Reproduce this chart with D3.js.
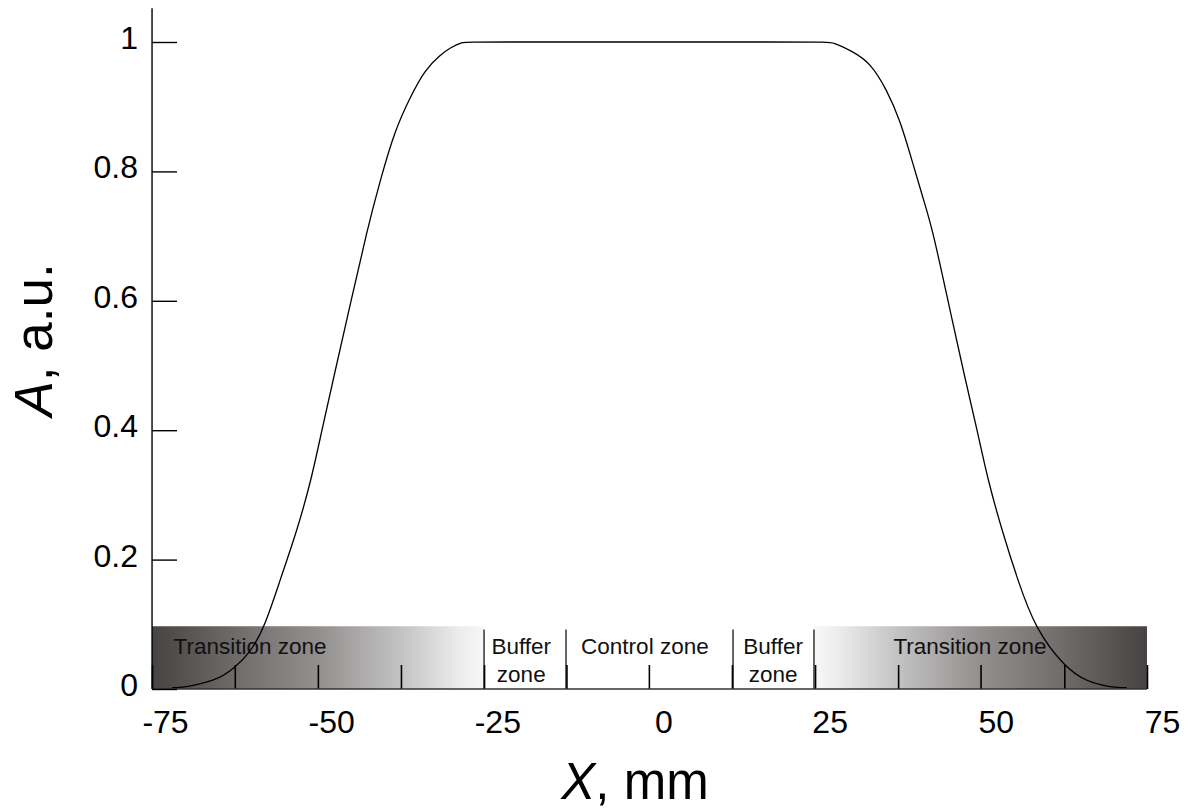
<!DOCTYPE html>
<html>
<head>
<meta charset="utf-8">
<script src="https://cdn.jsdelivr.net/npm/d3@7"></script>
<style>
  body { margin: 0; background: #fff; }
  svg { display: block; font-family: Arial, "Liberation Sans", sans-serif; }
</style>
</head>
<body>
<svg id="chart" width="1189" height="812"></svg>
<script>
// curve (X in mm, A in a.u.)
var curveX = [-73.9, -73.0, -70.8, -67.2, -64.6, -62.2, -60.0, -57.7, -55.1, -53.0, -51.4, -49.7, -47.0, -44.6, -42.6, -40.4, -38.1, -35.9, -33.6, -32.1, -30.3, -29.0,
              24.2, 25.5, 28.5, 31.1, 33.6, 35.6, 37.5, 39.0, 40.4, 42.8, 45.4, 47.2, 48.8, 50.9, 53.3, 55.9, 60.3, 63.7, 67.2, 69.0, 69.7];
var curveY = [0.002, 0.002, 0.005, 0.014, 0.032, 0.056, 0.096, 0.168, 0.246, 0.323, 0.400, 0.478, 0.600, 0.709, 0.787, 0.864, 0.915, 0.957, 0.980, 0.991, 1.0, 1.0,
              1.0, 1.0, 0.985, 0.968, 0.926, 0.879, 0.813, 0.760, 0.714, 0.600, 0.478, 0.400, 0.323, 0.246, 0.168, 0.094, 0.034, 0.011, 0.003, 0.002, 0.002];

// x and y tick labels
var xTicks = [-75, -50, -25, 0, 25, 50, 75];
var yTicks = [0, 0.2, 0.4, 0.6, 0.8, 1];

// zone strip
var zoneEdges = [-76.95, -27.0, -14.67, 10.46, 22.64, 72.74];
var zoneTicks = [-76.95, -64.5, -52.0, -39.5, -27.0, -14.6, -2.2, 10.3, 22.8, 35.3, 47.7, 60.3, 72.74];
var zoneLabels = [['Transition zone'], ['Buffer', 'zone'], ['Control zone'], ['Buffer', 'zone'], ['Transition zone']];
var zoneLabelX = [-62.2, -21.4, -2.8, 16.5, 46.1];
var stripTop = 0.097;
var yTop = 1.052;

var svg = d3.select('#chart');

var x = d3.scaleLinear().domain([-75, 75]).range([165, 1162]);
var y = d3.scaleLinear().domain([0, 1]).range([689, 42]);

// gradients for the transition zones
var defs = svg.append('defs');
var stops = [
    { o: 0, c: '#474342' },
    { o: 0.3, c: '#767372' },
    { o: 0.5, c: '#928f8e' },
    { o: 0.75, c: '#c4c3c3' },
    { o: 0.93, c: '#ededed' },
    { o: 1, c: '#f7f7f7' }
];
['left', 'right'].forEach(function(side) {
    var g = defs.append('linearGradient').attr('id', 'grad-' + side)
        .attr('x1', side === 'left' ? '0%' : '100%')
        .attr('x2', side === 'left' ? '100%' : '0%')
        .attr('y1', '0%').attr('y2', '0%');
    stops.forEach(function(s) {
        g.append('stop').attr('offset', s.o).attr('stop-color', s.c);
    });
});

// transition zone rects (first and last zone)
var strip = svg.append('g');
strip.append('rect')
    .attr('x', x(zoneEdges[0]))
    .attr('y', y(stripTop))
    .attr('width', x(zoneEdges[1]) - x(zoneEdges[0]))
    .attr('height', y(0) - y(stripTop))
    .attr('fill', 'url(#grad-left)');
strip.append('rect')
    .attr('x', x(zoneEdges[4]))
    .attr('y', y(stripTop))
    .attr('width', x(zoneEdges[5]) - x(zoneEdges[4]))
    .attr('height', y(0) - y(stripTop))
    .attr('fill', 'url(#grad-right)');

// dividers between zones
strip.selectAll('.divider')
    .data(zoneEdges.slice(1, 5))
    .enter().append('line')
    .attr('class', 'divider')
    .attr('x1', d => x(d)).attr('x2', d => x(d))
    .attr('y1', y(0.092)).attr('y2', y(0))
    .attr('stroke', '#000').attr('stroke-width', 1.2);

// zone labels
zoneLabels.forEach(function(lines, i) {
    var t = strip.append('text')
        .attr('x', x(zoneLabelX[i]))
        .attr('text-anchor', 'middle')
        .attr('font-size', 22.5)
        .attr('fill', '#111');
    lines.forEach(function(line, j) {
        t.append('tspan')
            .attr('x', x(zoneLabelX[i]))
            .attr('y', y(0) - 35 + j * 28)
            .text(line);
    });
});

// curve
var line = d3.line()
    .x(d => x(d[0]))
    .y(d => y(d[1]))
    .curve(d3.curveBasis);
svg.append('path')
    .datum(curveX.map((v, i) => [v, curveY[i]]))
    .attr('d', line)
    .attr('fill', 'none')
    .attr('stroke', '#000')
    .attr('stroke-width', 1.3);

// inner ticks of the x axis
var tickAxis = svg.append('g')
    .attr('transform', 'translate(0,' + y(0) + ')')
    .call(d3.axisBottom(x).tickValues(zoneTicks).tickSize(-24).tickFormat(''));
tickAxis.select('.domain').remove();
tickAxis.selectAll('.tick line').attr('stroke', '#000').attr('stroke-width', 1.6);

// x axis line and labels
svg.append('line')
    .attr('x1', x(zoneEdges[0])).attr('x2', x(zoneEdges[5]))
    .attr('y1', y(0)).attr('y2', y(0))
    .attr('stroke', '#333').attr('stroke-width', 1.6);

var xAxis = svg.append('g')
    .attr('transform', 'translate(0,' + y(0) + ')')
    .call(d3.axisBottom(x).tickValues(xTicks).tickSize(0).tickPadding(21).tickFormat(d => String(d)));
xAxis.select('.domain').remove();
xAxis.selectAll('text')
    .attr('font-size', 32)
    .attr('font-family', 'Arial, "Liberation Sans", sans-serif')
    .attr('fill', '#000');

// y axis
svg.append('line')
    .attr('x1', x(zoneEdges[0])).attr('x2', x(zoneEdges[0]))
    .attr('y1', y(0)).attr('y2', y(yTop))
    .attr('stroke', '#000').attr('stroke-width', 1.4);

var yAxis = svg.append('g')
    .attr('transform', 'translate(' + x(zoneEdges[0]) + ',0)')
    .call(d3.axisLeft(y).tickValues(yTicks).tickSizeInner(-25).tickSizeOuter(0).tickPadding(14).tickFormat(d => String(d)));
yAxis.select('.domain').remove();
yAxis.selectAll('.tick line').attr('stroke', '#000').attr('stroke-width', 1.4);
yAxis.selectAll('text')
    .attr('font-size', 32)
    .attr('font-family', 'Arial, "Liberation Sans", sans-serif')
    .attr('dy', '0.2em')
    .attr('fill', '#000');

// axis titles
var xTitle = svg.append('text')
    .attr('x', 635).attr('y', 799)
    .attr('text-anchor', 'middle')
    .attr('font-size', 51);
xTitle.append('tspan').attr('font-style', 'italic').text('X');
xTitle.append('tspan').text(', mm');

var yTitle = svg.append('text')
    .attr('transform', 'translate(52,340) rotate(-90)')
    .attr('text-anchor', 'middle')
    .attr('font-size', 53);
yTitle.append('tspan').attr('font-style', 'italic').text('A');
yTitle.append('tspan').text(', a.u.');
</script>
</body>
</html>
